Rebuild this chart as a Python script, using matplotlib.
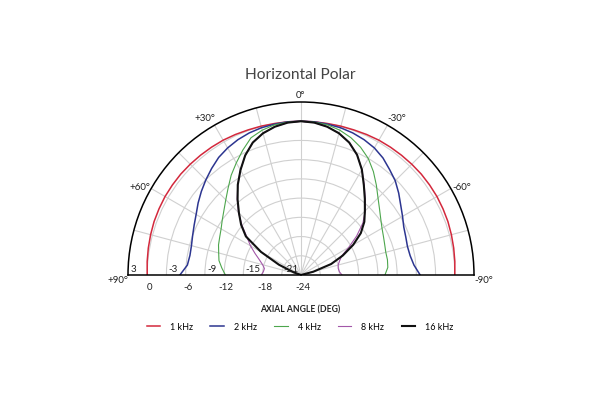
import numpy as np
import matplotlib
matplotlib.use("Agg")
import matplotlib.pyplot as plt

plt.rcParams['font.family'] = ['Lato', 'DejaVu Sans']

# angle off axis (deg), same grid for both sides
angles = [0, 5, 10, 15, 20, 25, 30, 35, 40, 45, 50, 55, 60, 65, 70, 75, 80, 85, 90]

# level in dB, left side (+ angles) and right side (- angles)
k1_left = [0, 0, 0, 0.05, 0.1, 0.2, 0.3, 0.35, 0.4, 0.45, 0.5, 0.5, 0.5, 0.45, 0.4, 0.3, 0.2, 0.1, 0]
k1_right = [0, 0, 0, 0.05, 0.1, 0.2, 0.3, 0.35, 0.4, 0.45, 0.5, 0.5, 0.5, 0.45, 0.4, 0.3, 0.2, 0.1, 0]
k2_left = [0, 0, -0.1, -0.2, -0.4, -0.7, -1.1, -1.6, -2.3, -3.0, -3.7, -4.4, -5.1, -5.6, -6.0, -6.3, -6.4, -6.2, -5.1]
k2_right = [0, 0, -0.1, -0.2, -0.4, -0.7, -1.1, -1.7, -2.5, -3.2, -4.1, -5.0, -5.7, -6.3, -6.6, -6.8, -6.7, -6.3, -5.4]
k4_left = [0, -0.05, -0.2, -0.6, -1.2, -2.5, -3.8, -5.0, -6.3, -7.4, -8.3, -9.0, -9.6, -10.0, -10.3, -10.7, -11.0, -11.6, -12.2]
k4_right = [0, -0.05, -0.2, -0.6, -1.2, -2.0, -3.0, -4.3, -5.7, -7.0, -8.0, -8.8, -9.4, -9.8, -10.1, -10.3, -10.3, -10.4, -10.9]
k8_left = [0, -0.13, -0.5, -1.1, -2.0, -3.4, -5.1, -6.8, -8.5, -10.2, -12.0, -13.7, -14.9, -16.1, -17.1, -17.8, -18.2, -18.1, -17.8]
k8_right = [0, -0.13, -0.5, -1.1, -2.0, -3.3, -5.0, -6.8, -8.4, -9.8, -11.4, -13.4, -15.4, -17.0, -17.6, -18.0, -18.1, -18.0, -17.6]
k16_left = [0, -0.13, -0.5, -1.1, -2.0, -3.4, -5.1, -6.8, -8.6, -10.3, -11.8, -13.5, -16.8, -20.2, -22.8, -24, -24, -24, -24]
k16_right = [0, -0.13, -0.5, -1.1, -2.0, -3.3, -5.0, -6.9, -8.5, -9.9, -11.1, -12.6, -14.6, -16.8, -19.0, -22.0, -24, -24, -24]

series = [
    ("1 kHz", k1_left, k1_right, "#d3283c", 1.1),
    ("2 kHz", k2_left, k2_right, "#2c3590", 1.1),
    ("4 kHz", k4_left, k4_right, "#4da64d", 0.8),
    ("8 kHz", k8_left, k8_right, "#a357a8", 0.8),
    ("16 kHz", k16_left, k16_right, "#111111", 1.5),
]

ring_labels_up = [3, -3, -9, -15, -21]
ring_labels_down = [0, -6, -12, -18, -24]
angle_labels = {0: "0°", 30: "+30°", -30: "-30°", 60: "+60°", -60: "-60°",
                90: "+90°", -90: "-90°"}

fig = plt.figure(figsize=(6, 4), dpi=100)
# half disc is fitted into a square box, centred vertically
ax = fig.add_axes([128 / 600, (400 - 361.5) / 400, 346 / 600, 346 / 400], projection='polar')
ax.set_theta_zero_location('N')
ax.set_theta_direction(1)
ax.set_thetamin(-90)
ax.set_thetamax(90)
ax.set_ylim(-24, 3)

theta = [-a for a in reversed(angles)] + angles[1:]
for name, left, right, color, lw in series:
    vals = list(reversed(right)) + left[1:]
    ax.plot(np.deg2rad(theta), vals, color=color, lw=lw, label=name)

# grid
ax.set_xticks(np.deg2rad(np.arange(-90, 91, 15)))
ax.set_xticklabels([])
ax.set_yticks(np.arange(-21, 1, 3))
ax.set_yticklabels([])
ax.tick_params(length=0)
ax.grid(True, color="#d0d0d0", lw=0.8)
for s in ax.spines.values():
    s.set_color("black")
    s.set_linewidth(1.1)

for a, lbl in angle_labels.items():
    r = 4.0 if a == 0 else 4.6
    t = a
    if abs(a) == 90:
        t = a + (1.6 if a > 0 else -1.6)
    elif a != 0:
        t = a + (1.5 if a > 0 else -1.5)
    ax.text(np.deg2rad(t), r, lbl, ha='center', va='center', fontsize=7,
            color="#222222", clip_on=False)

for v in ring_labels_up:
    ax.annotate(str(v), xy=(np.pi / 2, v), xytext=(1.5, 1), textcoords='offset points',
                ha='left', va='bottom', fontsize=7, color="#222222")
for v in ring_labels_down:
    ax.annotate(str(v), xy=(np.pi / 2, v), xytext=(1.5, -6), textcoords='offset points',
                ha='center', va='top', fontsize=7, color="#222222")

fig.text(0.5, 1 - 75 / 400, "Horizontal Polar", ha='center', va='center',
         fontsize=11.2, color="#444444")
fig.text(0.5, 1 - 310 / 400, "AXIAL ANGLE (DEG)", ha='center', va='center',
         fontsize=6.2, fontweight='bold', color="#222222")

fig.legend(loc='center', bbox_to_anchor=(0.5, 1 - 327 / 400), ncol=5, frameon=False,
           fontsize=6.5, handlelength=1.5, handletextpad=1.1, columnspacing=1.9)

fig.savefig("out.png", dpi=100)
